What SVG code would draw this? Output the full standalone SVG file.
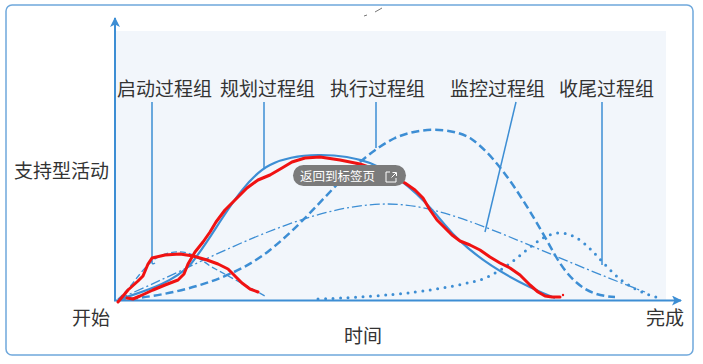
<svg xmlns="http://www.w3.org/2000/svg" width="703" height="364" viewBox="0 0 703 364">
<style>
.lbl{font-family:"Noto Sans CJK SC","Noto Sans",sans-serif;font-size:19px;fill:#333}
.lead{stroke:#3d8ed4;stroke-width:1.5;fill:none}
.crv{fill:none;stroke:#3d8ed4}
.dots{fill:none;stroke:#3d8ed4;stroke-width:3;stroke-linecap:round;stroke-dasharray:0 7.5}
.red{fill:none;stroke:#f01212;stroke-width:3;stroke-linejoin:round;stroke-linecap:round}
</style>
<defs>
<marker id="arr" viewBox="0 0 10 10" refX="9" refY="5" markerWidth="10" markerHeight="10" markerUnits="userSpaceOnUse" orient="auto">
<path d="M0,0 L10,5 L0,10 L2.5,5 Z" fill="#3d8ed4"/>
</marker>
</defs>
<rect x="0" y="0" width="703" height="364" fill="#ffffff"/>
<rect x="6" y="5" width="687" height="350" rx="6" fill="#ffffff" stroke="#6fa8dc" stroke-width="1.5"/>
<rect x="116" y="31" width="550" height="269" fill="#f2f6fb"/>
<path d="M364,16 L367,15 M375,12 L382,8" stroke="#777" stroke-width="1"/>

<g id="axes">
<line x1="115" y1="301" x2="115" y2="18" stroke="#3d8ed4" stroke-width="2" marker-end="url(#arr)"/>
<line x1="114" y1="300.5" x2="681" y2="300.5" stroke="#3d8ed4" stroke-width="2" marker-end="url(#arr)"/>
</g>

<g id="connectors">
<path class="lead" d="M152,102 V262 Q152,265 155,263"/>
<path class="lead" d="M264,102 V168"/>
<path class="lead" d="M376,102 V148"/>
<path class="lead" d="M516,102 L485,232"/>
<path class="lead" d="M602,102 V265"/>

<path id="c-start" class="crv" stroke-width="1.3" stroke-dasharray="6 3" d="M118,299 C135,285 145,260 165,254 C185,248 195,255 210,266 L265,296"/>
<path id="c-plan" class="crv" stroke-width="2.2" d="M118,300 C140,292 170,285 190,265 C215,235 240,180 270,165 C295,152 340,152 370,163 C400,175 425,200 445,225 C470,255 510,280 555,298"/>
<path id="c-exec" class="crv" stroke-width="2.5" stroke-dasharray="8 4" d="M118,300 C170,296 230,282 270,250 C320,210 350,160 395,138 C420,127 450,127 470,138 C500,158 530,210 555,255 C575,290 595,296 615,297"/>
<path id="c-mon" class="crv" stroke-width="1.3" stroke-dasharray="10 3 2 3" d="M118,299 C200,265 300,205 385,204 C450,203 520,245 645,292"/>
<path id="c-close" class="dots" d="M318,299 C400,296 440,290 480,280 C520,265 535,233 560,233 C585,233 600,265 625,283 C640,292 650,296 660,298"/>
</g>

<g id="red-marks">
<polyline class="red" points="118,302 128,290 138,281 143,276 148,264 152,258 165,255 180,254 193,256 207,260 218,264 228,269 235,276 242,283 250,289 258,292"/>
<polyline class="red" points="127,298 133,299 140,296 153,290 165,285 178,280 184,274 188,264 195,252 203,242 210,232 216,222 225,210 237,198 247,188 258,180 270,175 282,168 292,162 305,158 320,157 340,160 360,164 380,171 395,178 405,183 415,190 423,198 430,210 437,220 445,228 452,235 460,241 470,245 480,250 490,257 500,263 510,268 520,275 530,285 538,292 545,296 552,297 560,297"/>
<circle cx="563" cy="295" r="1.2" fill="#f01212"/>
</g>

<g id="n-start"><text class="lbl" x="117" y="96">启动过程组</text></g>
<g id="n-plan"><text class="lbl" x="220" y="96">规划过程组</text></g>
<g id="n-exec"><text class="lbl" x="330" y="96">执行过程组</text></g>
<g id="n-mon"><text class="lbl" x="450" y="96">监控过程组</text></g>
<g id="n-close"><text class="lbl" x="559" y="96">收尾过程组</text></g>
<g id="n-support"><text class="lbl" x="14" y="178">支持型活动</text></g>
<g id="n-begin"><text class="lbl" x="72" y="325">开始</text></g>
<g id="n-time"><text class="lbl" x="344" y="343">时间</text></g>
<g id="n-end"><text class="lbl" x="646" y="325">完成</text></g>

<g id="overlay-button">
<rect x="293" y="165" width="113" height="21" rx="10.5" fill="#7b7b7b"/>
<text x="300" y="181" font-family="'Noto Sans CJK SC','Noto Sans',sans-serif" font-size="12.5" fill="#ffffff">返回到标签页</text>
<path d="M390,172 H386 V182 H396 V178 M391.5,177.5 L396,173 M392.5,172.5 H396.5 V176" fill="none" stroke="#ffffff" stroke-width="1"/>
</g>
</svg>
